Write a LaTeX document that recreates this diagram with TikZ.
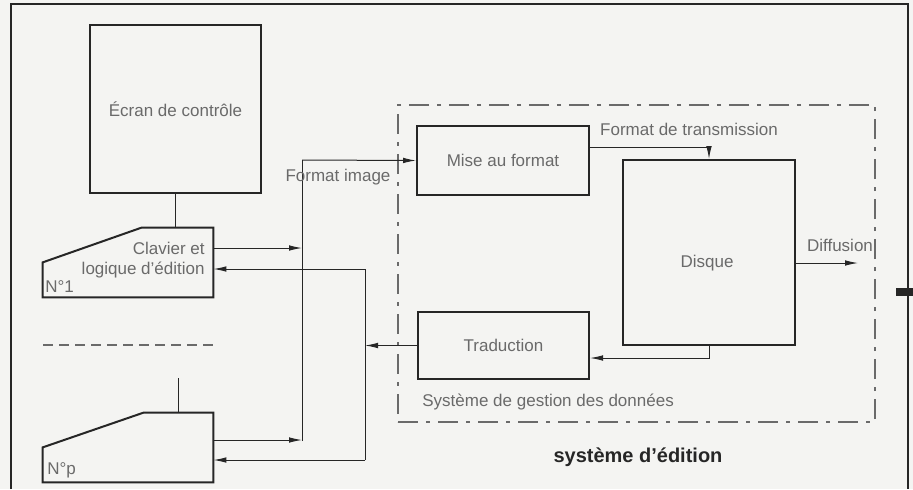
\documentclass[tikz,border=0pt]{standalone}
\usepackage{fontspec}
\setmainfont{Liberation Sans}
\usetikzlibrary{arrows.meta, positioning, calc}
\definecolor{ink}{HTML}{262626}
\definecolor{pale}{HTML}{6A6A6A}
\definecolor{paper}{HTML}{F4F4F2}

\begin{document}
\begin{tikzpicture}[x=0.5pt, y=-0.5pt,
  box/.style={draw=ink, line width=1pt, minimum width=85.5pt,
              font=\fontsize{8.5}{10}\selectfont, text=pale, inner sep=0pt},
  kbd/.style={minimum width=85pt, minimum height=34.5pt, inner sep=0pt},
  kbdline/.style={draw=ink, line width=1pt},
  arr/.style={-{Latex[length=6.5pt, width=2.8pt]}, ink, line width=0.5pt},
  wire/.style={ink, line width=0.5pt},
  sgdbox/.style={draw=pale, line width=0.7pt,
                 dash pattern=on 10pt off 4pt on 2pt off 4pt, inner sep=0pt},
  lbl/.style={font=\fontsize{8.5}{10}\selectfont, text=pale, inner sep=0pt}
]
\useasboundingbox (0,0) rectangle (913,489);
\fill[paper] (0,0) rectangle (913,489);

% Outer frame
\draw[ink, line width=0.8pt] (11,489) -- (11,4) -- (908,4) -- (908,489);
\fill[ink] (896,288) rectangle (913,296);

% Control screen
\node[box, minimum height=84pt] (ecran) at (175.5,109) {Écran de contrôle};

% Keyboards
\node[kbd] (kb1) at (128,262.5) {};
\draw[kbdline] ($(kb1.north west)+(99,0)$) -- (kb1.north east) -- (kb1.south east)
  -- (kb1.south west) -- ($(kb1.south west)+(0,-35)$) -- cycle;
\node[lbl, align=right, anchor=east] (kb1txt) at (205,260)
  {Clavier et\\logique d’édition};
\node[lbl, anchor=west] (kb1no) at (45,287) {N°1};

\node[kbd] (kbp) at (128,447.5) {};
\draw[kbdline] ($(kbp.north west)+(101,0)$) -- (kbp.north east) -- (kbp.south east)
  -- (kbp.south west) -- ($(kbp.south west)+(0,-35)$) -- cycle;
\node[lbl, anchor=west] (kbpno) at (47,470) {N°p};

\draw[pale, line width=0.6pt, dash pattern=on 5pt off 3pt] (43,345) -- (218,345);

% Data management system
\node[sgdbox, minimum width=238.5pt, minimum height=158.5pt] (sgd) at (636.5,263.5) {};
\node[box, minimum width=86pt, minimum height=34.5pt] (mise) at (503,160.5) {Mise au format};
\node[box, minimum width=86pt, minimum height=92.5pt] (disque) at (709,252.5) {};
\node[lbl] (disquetxt) at (707,263) {Disque};
\node[box, minimum height=33.5pt] (trad) at (503.5,345.5) {Traduction};
\node[lbl, anchor=west] (sgdlbl) at (422,402) {Système de gestion des données};

% Screen to keyboards
\draw[wire] (ecran.south) -- (ecran.south |- kb1.north);
\coordinate (stub) at (178,378);
\draw[wire] (stub) -- (stub |- kbp.north);

% Image format bus
\coordinate (busAtop) at (302,160);
\coordinate (busAbot) at (302,441);
\draw[wire] (busAbot) -- (busAtop);
\draw[arr] (busAtop) -- (mise.west);
\coordinate (o1) at ($(kb1.east)+(0,-14.5)$);
\coordinate (op) at ($(kbp.east)+(0,-7.5)$);
\draw[arr] (o1) -- (o1 -| busAtop);
\draw[arr] (op) -- (op -| busAbot);
\node[lbl] (fimg) at (338,177) {Format image};

% Return bus
\coordinate (busBtop) at (365,269);
\coordinate (busBbot) at (365,460);
\draw[wire] (busBtop) -- (busBbot);
\draw[arr] (trad.west) -- (trad.west -| busBtop);
\draw[arr] (busBtop) -- (busBtop -| kb1.east);
\draw[arr] (busBbot) -- (busBbot -| kbp.east);

% Inside the data system
\draw[arr] ($(mise.east)+(0,-13.5)$) -| (disque.north);
\node[lbl] (ftrans) at (689,129) {Format de transmission};
\draw[arr] (disque.south) |- ($(trad.east)+(0,12.5)$);
\coordinate (diff) at (858,263);
\draw[arr] (disque.east |- diff) -- (diff);
\node[lbl] (difflbl) at (840,245) {Diffusion};

% Title
\node[font=\bfseries\fontsize{10}{12}\selectfont, text=ink] (titre) at (638,457)
  {système d’édition};

\end{tikzpicture}
\end{document}
